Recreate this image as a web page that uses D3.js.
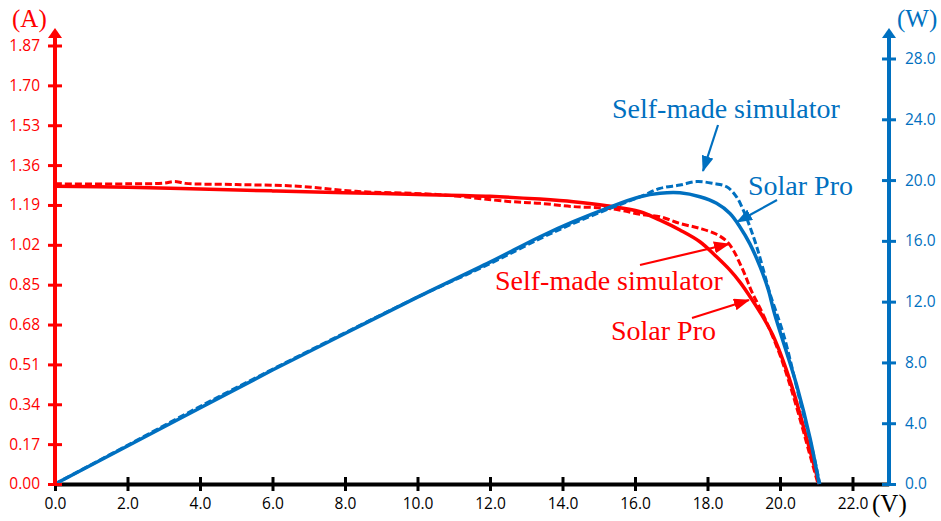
<!DOCTYPE html>
<html><head><meta charset="utf-8">
<script src="https://cdn.jsdelivr.net/npm/d3@7/dist/d3.min.js"></script>
<style>body{margin:0;background:#fff}svg{display:block}</style>
</head><body>
<svg id="c" width="941" height="521"></svg>
<script>
// ---- data ----
const voltageTicks = [0, 2, 4, 6, 8, 10, 12, 14, 16, 18, 20, 22];
const currentTicks = [0, 0.17, 0.34, 0.51, 0.68, 0.85, 1.02, 1.19, 1.36, 1.53, 1.70, 1.87];
const powerTicks = [0, 4, 8, 12, 16, 20, 24, 28];

// I-V, Solar Pro (solid red)
const ivProV = [0, 2, 4, 6, 8, 10, 12, 13.38, 14.3, 15.22, 16.14, 16.69, 17.24, 17.79, 18.25, 18.62, 18.9, 19.17, 19.5, 19.8, 20.1, 20.4, 20.7, 21.08];
const ivProI = [1.27, 1.265, 1.258, 1.25, 1.242, 1.235, 1.227, 1.215, 1.204, 1.187, 1.161, 1.125, 1.083, 1.033, 0.969, 0.912, 0.86, 0.80, 0.72, 0.635, 0.52, 0.38, 0.215, 0];
// I-V, self-made simulator (dashed red)
const ivSelfV = [0, 2, 3, 3.3, 3.6, 5, 6.7, 8.3, 10.6, 12.5, 13.38, 14.3, 15.22, 15.68, 16.14, 16.69, 17.24, 17.79, 18.25, 18.53, 18.72, 18.85, 19.04, 19.22, 19.45, 19.7, 20.0, 20.3, 20.6, 20.85, 21.05];
const ivSelfI = [1.28, 1.28, 1.283, 1.29, 1.282, 1.277, 1.27, 1.248, 1.234, 1.205, 1.197, 1.183, 1.176, 1.165, 1.15, 1.14, 1.111, 1.09, 1.065, 1.035, 0.995, 0.955, 0.89, 0.82, 0.75, 0.665, 0.55, 0.41, 0.25, 0.11, 0];
// P-V, Solar Pro (solid blue)
const pvProV = [0, 2, 4, 6, 8, 10, 12, 13.38, 14.3, 15.22, 16.14, 16.69, 17.24, 17.79, 18.25, 18.62, 18.9, 19.17, 19.45, 19.68, 19.85, 20.46, 20.83, 21.08];
const pvProP = [0, 2.5, 5.0, 7.5, 9.9, 12.3, 14.6, 16.27, 17.26, 18.14, 18.9, 19.13, 19.16, 18.9, 18.47, 17.8, 16.9, 15.8, 14.3, 12.76, 11.2, 6.5, 3.0, 0];
// P-V, self-made simulator (dashed blue)
const pvSelfV = [0, 2, 4, 6, 8, 10, 12, 13.38, 14.3, 15.22, 16.14, 16.69, 17.24, 17.7, 18.16, 18.53, 18.8, 18.99, 19.17, 19.36, 19.54, 19.72, 20.09, 20.55, 20.9, 21.1];
const pvSelfP = [0, 2.55, 5.1, 7.55, 9.95, 12.3, 14.5, 16.15, 17.15, 18.05, 18.9, 19.45, 19.67, 19.9, 19.78, 19.56, 18.9, 18.0, 16.93, 15.6, 14.1, 12.55, 9.9, 5.5, 2.2, 0];

// ---- drawing ----
const RED = "#ff0000", BLUE = "#0070c0";
const svg = d3.select("#c");
const x = d3.scaleLinear([0, 23], [55, 888.75]);
const yA = d3.scaleLinear([0, 1.87], [484, 45.5]);
const yW = d3.scaleLinear([0, 28], [484, 58.5]);
const tickFont = "'Open Sans', sans-serif";
const serif = "'Liberation Serif', 'Times New Roman', serif";

const defs = svg.append("defs");
function marker(id, color) {
  defs.append("marker").attr("id", id).attr("markerUnits", "userSpaceOnUse")
    .attr("viewBox", "0 0 16 12").attr("refX", 15).attr("refY", 6)
    .attr("markerWidth", 16).attr("markerHeight", 12).attr("orient", "auto")
    .append("path").attr("d", "M0,0 L16,6 L0,12 Z").attr("fill", color);
}
marker("ar", RED); marker("ab", BLUE);

// x axis (black)
const xAxis = d3.axisBottom(x).tickValues(voltageTicks).tickFormat(d3.format(".1f")).tickSize(0).tickPadding(14);
const gx = svg.append("g").attr("transform", "translate(0,484)").call(xAxis);
gx.select(".domain").attr("stroke", "#000").attr("stroke-width", 4);
gx.selectAll(".tick line").remove();
gx.selectAll(".tick").append("line").attr("y1", -7).attr("y2", 7).attr("stroke", "#000").attr("stroke-width", 3);
gx.selectAll("text").attr("font-family", tickFont).attr("font-size", 15.5).attr("fill", "#000").attr("dy", "0.71em").attr("y", 14);

// curves
const line = (ys) => d3.line().x(d => x(d[0])).y(d => ys(d[1])).curve(d3.curveCatmullRom.alpha(0.5));
const zip = (a, b) => a.map((v, i) => [v, b[i]]);
svg.append("path").datum(zip(ivProV, ivProI)).attr("d", line(yA)).attr("fill", "none").attr("stroke", RED).attr("stroke-width", 3.5);
svg.append("path").datum(zip(ivSelfV, ivSelfI)).attr("d", line(yA)).attr("fill", "none").attr("stroke", RED).attr("stroke-width", 3).attr("stroke-dasharray", "7,3");
svg.append("path").datum(zip(pvProV, pvProP)).attr("d", line(yW)).attr("fill", "none").attr("stroke", BLUE).attr("stroke-width", 3.5);
svg.append("path").datum(zip(pvSelfV, pvSelfP)).attr("d", line(yW)).attr("fill", "none").attr("stroke", BLUE).attr("stroke-width", 3).attr("stroke-dasharray", "7,3");

// left axis (red)
const gl = svg.append("g").attr("transform", "translate(55,0)")
  .call(d3.axisLeft(yA).tickValues(currentTicks).tickFormat(d3.format(".2f")).tickSize(0).tickPadding(15));
gl.select(".domain").remove();
gl.append("line").attr("y1", 486).attr("y2", 36).attr("stroke", RED).attr("stroke-width", 4);
gl.append("path").attr("d", "M0,28 L7,38 L-7,38 Z").attr("fill", RED);
gl.selectAll(".tick").append("line").attr("x1", -7).attr("x2", 7).attr("stroke", RED).attr("stroke-width", 3);
gl.selectAll("text").attr("font-family", tickFont).attr("font-size", 15.5).attr("fill", RED);
svg.append("text").attr("x", 12).attr("y", 27).attr("font-family", serif).attr("font-size", 25).attr("fill", RED).text("(A)");

// right axis (blue)
const gr = svg.append("g").attr("transform", "translate(889,0)")
  .call(d3.axisRight(yW).tickValues(powerTicks).tickFormat(d3.format(".1f")).tickSize(0).tickPadding(16));
gr.select(".domain").remove();
gr.append("line").attr("y1", 486).attr("y2", 36).attr("stroke", BLUE).attr("stroke-width", 4);
gr.append("path").attr("d", "M0,28 L7,38 L-7,38 Z").attr("fill", BLUE);
gr.selectAll(".tick").append("line").attr("x1", -7).attr("x2", 7).attr("stroke", BLUE).attr("stroke-width", 3);
gr.selectAll("text").attr("font-family", tickFont).attr("font-size", 15.5).attr("fill", BLUE);
svg.append("text").attr("x", 897).attr("y", 27).attr("font-family", serif).attr("font-size", 25).attr("fill", BLUE).text("(W)");
svg.append("text").attr("x", 872).attr("y", 512).attr("font-family", serif).attr("font-size", 25).attr("fill", "#000").text("(V)");

// annotations
const labels = [
  {t: "Self-made simulator", x: 612, y: 118, c: BLUE},
  {t: "Solar Pro", x: 748, y: 195, c: BLUE},
  {t: "Self-made simulator", x: 495, y: 290, c: RED},
  {t: "Solar Pro", x: 611, y: 340, c: RED}
];
labels.forEach(l => svg.append("text").attr("x", l.x).attr("y", l.y).attr("font-family", serif)
  .attr("font-size", 28).attr("fill", l.c).text(l.t));
const arrows = [
  {x1: 718, y1: 125, x2: 703, y2: 171, m: "ab", c: BLUE},
  {x1: 777, y1: 200, x2: 737, y2: 222, m: "ab", c: BLUE},
  {x1: 640, y1: 265, x2: 729, y2: 244, m: "ar", c: RED},
  {x1: 692, y1: 318, x2: 749, y2: 300, m: "ar", c: RED}
];
arrows.forEach(a => svg.append("line").attr("x1", a.x1).attr("y1", a.y1).attr("x2", a.x2).attr("y2", a.y2)
  .attr("stroke", a.c).attr("stroke-width", 2.2).attr("marker-end", `url(#${a.m})`));
</script>
</body></html>
